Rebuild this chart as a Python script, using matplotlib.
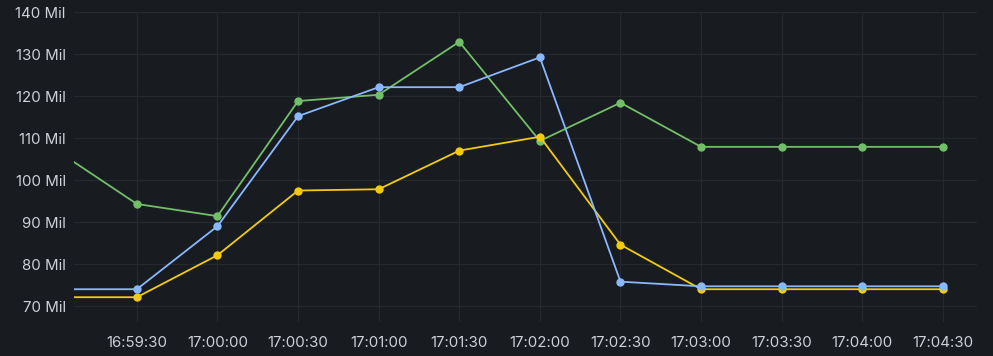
import matplotlib
matplotlib.use("Agg")
import matplotlib.pyplot as plt
import matplotlib.dates as mdates
import pandas as pd

times = pd.to_datetime([
    "2024-01-01 16:59:00", "2024-01-01 16:59:30", "2024-01-01 17:00:00",
    "2024-01-01 17:00:30", "2024-01-01 17:01:00", "2024-01-01 17:01:30",
    "2024-01-01 17:02:00", "2024-01-01 17:02:30", "2024-01-01 17:03:00",
    "2024-01-01 17:03:30", "2024-01-01 17:04:00", "2024-01-01 17:04:30",
])
green = [107.1, 94.3, 91.4, 118.8, 120.3, 132.9, 109.3, 118.4, 107.9, 107.9, 107.9, 107.9]
yellow = [72.1, 72.1, 82.1, 97.5, 97.8, 107.0, 110.3, 84.6, 74.0, 74.0, 74.0, 74.0]
blue = [74.0, 74.0, 89.0, 115.2, 122.1, 122.1, 129.2, 75.8, 74.7, 74.7, 74.7, 74.7]

series = [("green", green, "#73bf69"), ("yellow", yellow, "#f2cc0c"), ("blue", blue, "#8ab8ff")]

y_ticks = [70, 80, 90, 100, 110, 120, 130, 140]
y_tick_labels = [f"{v} Mil" for v in y_ticks]

bg = "#181b1f"
fig = plt.figure(figsize=(9.93, 3.56), dpi=100, facecolor=bg)
ax = fig.add_axes([74/993, (356-322)/356, (977-74)/993, (322-12)/356])
ax.set_facecolor(bg)

for name, vals, col in series:
    ax.plot(times, vals, color=col, lw=1.3, marker="o", ms=5, mec=col, mfc=col, zorder=3)

ax.set_xlim(pd.Timestamp("2024-01-01 16:59:06.6"), pd.Timestamp("2024-01-01 17:04:42.7"))
ax.set_ylim(66.2, 140)
ax.set_yticks(y_ticks)
ax.set_yticklabels(y_tick_labels)
ax.xaxis.set_major_locator(mdates.SecondLocator(bysecond=[0, 30]))
ax.xaxis.set_major_formatter(mdates.DateFormatter("%H:%M:%S"))

for s in ax.spines.values():
    s.set_visible(False)
ax.grid(True, color="#25282d", lw=0.9)
ax.set_axisbelow(True)
ax.tick_params(length=0, colors="#cfd0d8", labelsize=10.8, pad=6)
for lab in ax.get_xticklabels() + ax.get_yticklabels():
    lab.set_fontfamily(["Inter", "DejaVu Sans"])
ax.tick_params(axis="x", pad=10)

fig.savefig("out.png", dpi=100, facecolor=bg)
